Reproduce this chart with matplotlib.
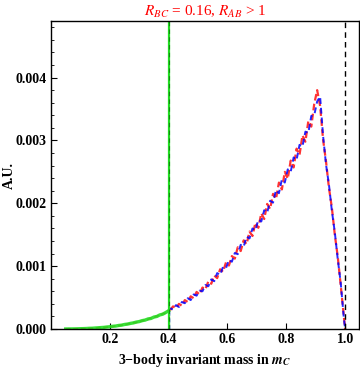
import matplotlib
matplotlib.use("Agg")
import matplotlib.pyplot as plt
import numpy as np

plt.rcParams['font.family'] = ['Liberation Serif', 'DejaVu Serif']
plt.rcParams['mathtext.fontset'] = 'stix'

# Green histogram (below 0.4)
green_x = [0.05, 0.06, 0.07, 0.08, 0.09, 0.10, 0.11, 0.12, 0.13, 0.14, 0.15, 0.16,
           0.17, 0.18, 0.19, 0.20, 0.21, 0.22, 0.23, 0.24, 0.25, 0.26, 0.27, 0.28,
           0.29, 0.30, 0.31, 0.32, 0.33, 0.34, 0.35, 0.36, 0.37, 0.38, 0.39, 0.40]
green_y = [0.000, 0.001, 0.001, 0.002, 0.003, 0.005, 0.006, 0.008, 0.011, 0.012, 0.016, 0.019,
           0.023, 0.026, 0.032, 0.036, 0.043, 0.047, 0.056, 0.061, 0.072, 0.078, 0.089, 0.097,
           0.110, 0.118, 0.133, 0.142, 0.160, 0.168, 0.190, 0.200, 0.224, 0.236, 0.262, 0.290]
red_low_y = [0.000, 0.001, 0.002, 0.002, 0.004, 0.004, 0.007, 0.007, 0.010, 0.013, 0.014, 0.020,
             0.021, 0.028, 0.029, 0.038, 0.040, 0.049, 0.052, 0.063, 0.068, 0.080, 0.084, 0.100,
             0.104, 0.124, 0.127, 0.148, 0.152, 0.176, 0.182, 0.208, 0.215, 0.245, 0.252, 0.300]

# Red / blue histograms (0.4 - 1.0)
hist_x = [0.405, 0.415, 0.425, 0.435, 0.445, 0.455, 0.465, 0.475, 0.485, 0.495,
          0.505, 0.515, 0.525, 0.535, 0.545, 0.555, 0.565, 0.575, 0.585, 0.595,
          0.605, 0.615, 0.625, 0.635, 0.645, 0.655, 0.665, 0.675, 0.685, 0.695,
          0.705, 0.715, 0.725, 0.735, 0.745, 0.755, 0.765, 0.775, 0.785, 0.795,
          0.805, 0.815, 0.825, 0.835, 0.845, 0.855, 0.865, 0.875, 0.885, 0.895,
          0.905, 0.915, 0.925, 0.935, 0.945, 0.955, 0.965, 0.975, 0.985, 0.995, 1.0]
red_y = [0.30, 0.36, 0.33, 0.40, 0.37, 0.46, 0.43, 0.52, 0.49, 0.59,
         0.55, 0.66, 0.63, 0.76, 0.72, 0.85, 0.81, 0.95, 0.91, 1.06,
         1.01, 1.16, 1.12, 1.30, 1.24, 1.41, 1.35, 1.55, 1.48, 1.69,
         1.61, 1.84, 1.75, 1.99, 1.91, 2.15, 2.07, 2.33, 2.22, 2.50,
         2.39, 2.68, 2.57, 2.87, 2.77, 3.08, 2.98, 3.31, 3.22, 3.58,
         3.80, 3.55, 3.02, 2.67, 2.25, 1.93, 1.50, 1.15, 0.70, 0.24, 0.0]
blue_y = [0.33, 0.31, 0.38, 0.35, 0.43, 0.41, 0.49, 0.46, 0.55, 0.53,
          0.61, 0.60, 0.70, 0.68, 0.79, 0.76, 0.89, 0.86, 0.99, 0.97,
          1.10, 1.07, 1.21, 1.19, 1.34, 1.31, 1.47, 1.44, 1.60, 1.57,
          1.74, 1.71, 1.89, 1.85, 2.04, 2.01, 2.21, 2.16, 2.38, 2.33,
          2.54, 2.50, 2.73, 2.69, 2.93, 2.90, 3.14, 3.12, 3.39, 3.40,
          3.62, 3.70, 3.08, 2.62, 2.30, 1.88, 1.54, 1.11, 0.74, 0.21, 0.0]

xticks = [0.2, 0.4, 0.6, 0.8, 1.0]
yticks = [0.000, 0.001, 0.002, 0.003, 0.004]

fig = plt.figure(figsize=(3.6, 3.69), dpi=100)
ax = fig.add_axes([0.1417, 0.1084, 0.997 - 0.1417, 0.943 - 0.1084])

ax.plot(green_x, np.array(red_low_y) * 1e-3, color='red', lw=1.2, ls=(0, (3, 1.5)), alpha=0.8)
ax.plot(green_x, np.array(green_y) * 1e-3, color='#22dd22', lw=2.4, alpha=0.9)
ax.plot(hist_x, np.array(red_y) * 1e-3, color='red', lw=1.6, ls=(0, (3, 1.5)), alpha=0.8)
ax.plot(hist_x, np.array(blue_y) * 1e-3, color='blue', lw=1.4, ls=(1.5, (3, 2)), alpha=0.85)

ax.axvline(0.4, ymax=0.065, color='blue', lw=1.0, ls=(0, (3, 2)))
ax.axvline(0.4, color='#22dd22', lw=1.6)
ax.axvline(0.4, color='#118811', lw=0.8, ls=(0, (4, 3)))
ax.axvline(1.0, color='black', lw=1.0, ls=(0, (4, 3)))

ax.set_xlim(0, 1.047)
ax.set_ylim(0, 0.0049)
ax.set_xticks(xticks)
ax.set_xticklabels([f"{t:.1f}" for t in xticks])
ax.set_yticks(yticks)
ax.set_yticklabels([f"{t:.3f}" for t in yticks])
ax.set_yticks(np.arange(0, 0.0049, 0.0002), minor=True)
ax.tick_params(direction='in', length=4, width=0.8, labelsize=10, pad=3)
ax.tick_params(which='minor', direction='in', length=2.5, width=0.6)
for lab in ax.get_xticklabels() + ax.get_yticklabels():
    lab.set_fontweight('bold')
for sp in ax.spines.values():
    sp.set_linewidth(1.0)

ax.set_xlabel("3\u2212body invariant mass in $\\mathbfit{m}_{\\mathbfit{C}}$", fontsize=10, fontweight='bold', labelpad=4)
ax.set_ylabel("A.U.", fontsize=10, fontweight='bold', labelpad=0)
ax.set_title("$R_{BC}$ = 0.16, $R_{AB}$ > 1", color='red', fontsize=11, pad=4)

fig.savefig("out.png", dpi=100)
